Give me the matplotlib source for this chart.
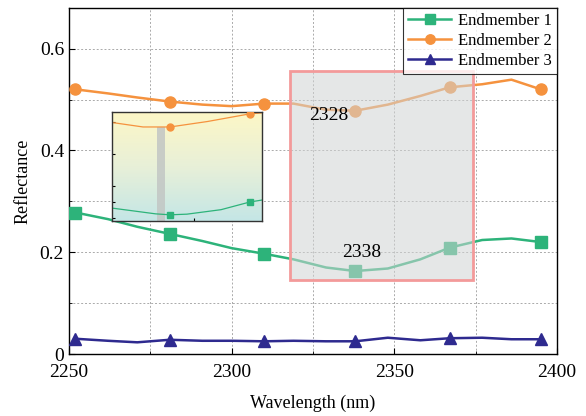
import numpy as np
import matplotlib
matplotlib.use("Agg")
import matplotlib.pyplot as plt
from matplotlib.patches import Rectangle
from matplotlib.colors import LinearSegmentedColormap

plt.rcParams['font.family'] = ['Liberation Serif', 'DejaVu Serif']

wavelength = [2252, 2262, 2271, 2281, 2291, 2300, 2310, 2319, 2329, 2338, 2348, 2358, 2367, 2377, 2386, 2395]
em1 = [0.278, 0.265, 0.250, 0.236, 0.222, 0.208, 0.197, 0.186, 0.170, 0.163, 0.168, 0.186, 0.209, 0.224, 0.227, 0.220]
em2 = [0.520, 0.512, 0.504, 0.496, 0.490, 0.487, 0.492, 0.492, 0.480, 0.478, 0.490, 0.507, 0.524, 0.530, 0.539, 0.520]
em3 = [0.030, 0.026, 0.023, 0.028, 0.026, 0.026, 0.025, 0.026, 0.025, 0.025, 0.032, 0.027, 0.031, 0.032, 0.029, 0.029]
marker_every = 3

# inset (zoomed view) data
inset_x = [2260, 2271.4, 2281.3, 2295, 2310.6, 2315]
inset_orange = [0.497, 0.483, 0.483, 0.500, 0.524, 0.527]
inset_green_x = [2260, 2276, 2281.3, 2287.5, 2300, 2310.6, 2315]
inset_green = [0.230, 0.212, 0.209, 0.211, 0.225, 0.249, 0.255]
inset_marker_x = [2281.3, 2310.6]
inset_band = (2276.7, 2279.6)

box = dict(x0=2318, x1=2374.2, y0=0.146, y1=0.557)
labels = [("2328", 2330, 0.468), ("2338", 2340, 0.200)]

c1, c2, c3 = '#2db37a', '#f5923e', '#2e2a8f'

fig = plt.figure(figsize=(5.86, 4.16), dpi=100)
ax = fig.add_axes([0.1177, 0.149, 0.8328, 0.832])

ax.plot(wavelength, em1, color=c1, lw=1.8, marker='s', ms=8, markevery=marker_every, label='Endmember 1', zorder=3)
ax.plot(wavelength, em2, color=c2, lw=1.8, marker='o', ms=8, markevery=marker_every, label='Endmember 2', zorder=3)
ax.plot(wavelength, em3, color=c3, lw=1.8, marker='^', ms=9, markevery=marker_every, label='Endmember 3', zorder=3)

ax.add_patch(Rectangle((box['x0'], box['y0']), box['x1'] - box['x0'], box['y1'] - box['y0'],
                       facecolor=(0.82, 0.83, 0.83, 0.55), edgecolor='#f39a9a', lw=2, zorder=4))
for t, x, y in labels:
    ax.text(x, y, t, fontsize=14, ha='center', va='center', zorder=5)

ax.set_xlim(2250, 2400)
ax.set_ylim(0, 0.68)
ax.set_xticks([2250, 2300, 2350, 2400])
ax.set_xticks([2275, 2325, 2375], minor=True)
ax.set_yticks([0, 0.2, 0.4, 0.6])
ax.set_yticklabels(['0', '0.2', '0.4', '0.6'])
ax.set_yticks([0.1, 0.3, 0.5], minor=True)
ax.tick_params(which='both', direction='in', labelsize=14)
ax.tick_params(which='major', length=4)
ax.tick_params(which='minor', length=2.5)
ax.tick_params(axis='x', which='major', pad=7)
ax.grid(which='both', color='#aaaaaa', ls=(0, (2, 2)), lw=0.7, zorder=0)
ax.set_axisbelow(True)
for s in ax.spines.values():
    s.set_linewidth(1.0)
ax.set_xlabel('Wavelength (nm)', fontsize=13, labelpad=10)
ax.set_ylabel('Reflectance', fontsize=13, labelpad=6)

leg = ax.legend(loc='upper right', fontsize=12, frameon=True, fancybox=False, edgecolor='black',
                borderaxespad=0, handlelength=2.6, labelspacing=0.25, borderpad=0.3,
                markerscale=0.85, handletextpad=0.4)
leg.get_frame().set_linewidth(0.8)
leg.set_zorder(6)

# inset
ia = fig.add_axes([0.191, 0.469, 0.256, 0.262])
ia.set_xlim(2260, 2315)
ia.set_ylim(0.19, 0.53)
cmap = LinearSegmentedColormap.from_list('g', ['#c4e6e6', '#e8f0d8', '#fdf7c6'])
grad = np.linspace(0, 1, 256).reshape(-1, 1)
ia.imshow(grad, extent=[2260, 2315, 0.19, 0.53], origin='lower', aspect='auto', cmap=cmap, zorder=0)
ia.fill_between(inset_band, 0.19, 0.483, color='#c2c6c4', alpha=0.85, lw=0, zorder=1)
ia.plot(inset_x, inset_orange, color=c2, lw=0.9, zorder=2)
ia.plot(inset_marker_x, np.interp(inset_marker_x, inset_x, inset_orange), 'o', color=c2, ms=5, zorder=3)
ia.plot(inset_green_x, inset_green, color=c1, lw=0.9, zorder=2)
ia.plot(inset_marker_x, np.interp(inset_marker_x, inset_green_x, inset_green), 's', color=c1, ms=5, zorder=3)
ia.set_xticks([2290])
ia.set_yticks([0.2, 0.25, 0.3, 0.4, 0.5])
ia.tick_params(direction='in', length=2, labelleft=False, labelbottom=False)
for s in ia.spines.values():
    s.set_linewidth(1.0)
    s.set_color('#333333')

fig.savefig('out.png', dpi=100)
